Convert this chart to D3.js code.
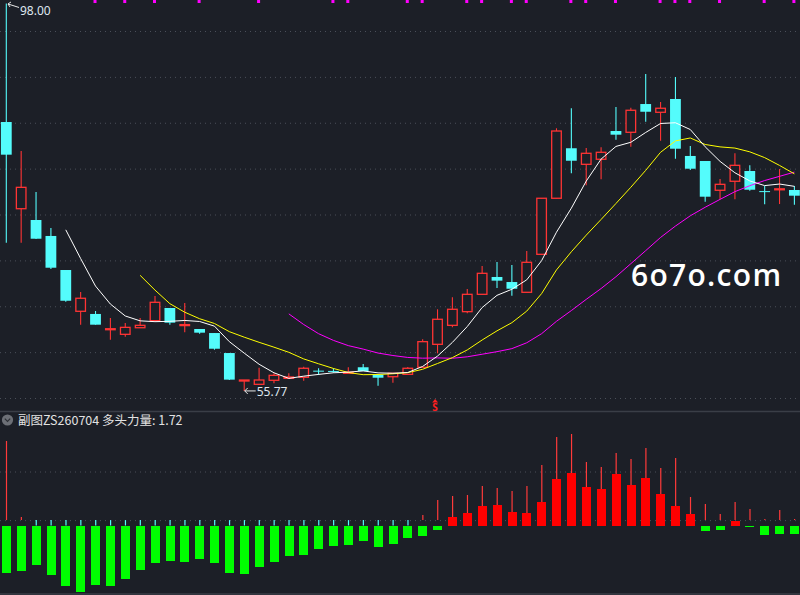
<!DOCTYPE html>
<html>
<head>
<meta charset="utf-8">
<script src="https://cdn.jsdelivr.net/npm/d3@7"></script>
<style>
  html, body { margin: 0; padding: 0; background: #1c1f27; }
  svg { display: block; }
</style>
</head>
<body>
<svg id="chart" width="800" height="595"></svg>
<script>
// daily candles
const opens  = [85.08, 75.63, 74.40, 72.66, 68.95, 64.45, 64.16, 62.45, 61.94, 62.66,
                63.43, 64.81, 62.90, 62.52, 62.08, 59.90, 56.85, 56.49, 56.93, 57.14,
                57.26, 57.98, 57.95, 57.72, 58.35, 57.54, 57.32, 57.58, 58.35, 60.85,
                62.92, 64.41, 66.30, 68.19, 67.64, 66.52, 70.66, 76.77, 82.22, 80.47,
                81.02, 84.10, 83.96, 87.04, 86.14, 87.59, 81.38, 80.83, 77.64, 78.62,
                79.74, 77.55, 77.70, 77.67]
const highs  = [98.00, 81.92, 77.45, 73.53, 68.95, 66.55, 64.48, 63.72, 63.17, 63.72,
                66.12, 64.81, 65.35, 62.52, 62.08, 59.90, 56.96, 58.30, 57.69, 57.69,
                58.41, 58.24, 58.24, 58.35, 58.70, 57.60, 57.69, 58.38, 61.40, 64.67,
                65.98, 66.88, 69.39, 69.82, 69.50, 71.02, 76.77, 84.40, 86.57, 82.25,
                82.32, 86.72, 86.64, 90.31, 87.26, 89.99, 82.47, 80.83, 78.87, 81.67,
                80.36, 78.11, 79.96, 78.11]
const lows   = [71.93, 71.93, 72.33, 69.06, 65.50, 62.99, 62.99, 61.35, 61.68, 62.66,
                63.43, 62.99, 62.16, 62.01, 60.26, 56.95, 55.77, 56.49, 56.60, 57.14,
                56.88, 57.51, 57.75, 57.70, 57.94, 56.34, 56.67, 57.58, 58.35, 59.87,
                62.70, 64.23, 66.30, 66.99, 66.15, 66.52, 70.66, 76.77, 79.49, 78.18,
                78.84, 83.15, 82.39, 85.11, 83.04, 81.08, 79.85, 76.40, 76.66, 76.66,
                77.60, 76.11, 76.14, 76.07]
const closes = [81.52, 77.96, 72.36, 69.20, 65.60, 65.87, 62.99, 62.55, 62.70, 62.92,
                65.43, 63.21, 63.00, 62.12, 60.37, 57.00, 56.96, 56.96, 57.47, 57.29,
                58.24, 57.90, 57.85, 57.80, 57.94, 57.21, 57.69, 58.24, 61.14, 63.58,
                64.67, 66.30, 68.59, 67.79, 66.91, 69.79, 76.77, 84.10, 80.86, 81.67,
                81.78, 83.70, 86.36, 86.20, 86.58, 82.17, 79.99, 76.94, 78.29, 80.36,
                77.70, 77.45, 77.80, 77.05]

// moving average lines (white, yellow, magenta)
const ma5 = [null, null, null, null,
  73.33, 70.20, 67.20, 65.24, 63.94, 63.41, 63.32, 63.36, 63.45, 63.34,
  62.83, 61.14, 59.89, 58.68, 57.75, 57.14, 57.38, 57.57, 57.75, 57.82,
  57.95, 57.74, 57.70, 57.78, 58.44, 59.57, 61.06, 62.79, 64.86, 66.19,
  66.85, 67.88, 69.97, 73.07, 75.69, 78.64, 81.04, 82.42, 82.87, 83.94,
  84.92, 85.00, 84.26, 82.38, 80.79, 79.55, 78.66, 78.15, 78.32, 78.07]
const ma10 = [null, null, null, null, null, null, null, null, null,
  68.37, 66.76, 65.28, 64.35, 63.64, 63.12, 62.23, 61.63, 61.07, 60.54,
  59.98, 59.26, 58.73, 58.22, 57.78, 57.54, 57.56, 57.64, 57.76, 58.13,
  58.76, 59.40, 60.24, 61.32, 62.32, 63.21, 64.47, 66.38, 68.96, 70.94,
  72.75, 74.46, 76.20, 77.97, 79.81, 81.78, 83.02, 83.34, 82.63, 82.37,
  82.24, 81.83, 81.20, 80.35, 79.43]
const ma20 = [null, null, null, null, null, null, null, null, null, null,
  null, null, null, null, null, null, null, null, null,
  64.17, 63.01, 62.01, 61.28, 60.71, 60.33, 59.90, 59.63, 59.42, 59.34,
  59.37, 59.33, 59.49, 59.77, 60.05, 60.38, 61.02, 62.01, 63.36, 64.53,
  65.75, 66.93, 68.22, 69.64, 71.06, 72.50, 73.74, 74.86, 75.79, 76.65,
  77.49, 78.14, 78.70, 79.16, 79.62]

// sub chart: power bars and thin sticks
const powerBars = [-8.74, -8.37, -7.31, -9.17, -11.2, -12.31, -11.02, -11.2, -9.91, -8.24,
                   -6.94, -6.57, -6.76, -6.2, -6.94, -8.8, -8.98, -7.69, -6.76, -5.65,
                   -5.46, -4.35, -3.8, -3.61, -2.87, -3.98, -3.43, -2.31, -1.94, -0.83,
                   1.57, 2.31, 3.61, 3.8, 2.5, 2.31, 4.35, 8.61, 9.72, 7.22,
                   6.67, 9.54, 7.5, 8.8, 5.83, 3.61, 2.13, -1.02, -0.83, 0.83,
                   -0.28, -1.76, -1.57, -1.57]
const powerSticks = [15.65, 1.57, 0, 0, 0, 0, 0, 0, 0, 0,
                     0, 0, 0, 0, 0, 0, 0, 0, 0, 0,
                     0, 0, 0, 0, 0, 0, 0, 0, 1.94, 4.72,
                     5.46, 5.65, 7.31, 6.94, 6.39, 7.31, 11.2, 16.39, 16.94, 11.76,
                     10.83, 13.43, 12.31, 14.35, 10.65, 12.5, 5.28, 3.98, 2.13, 4.35,
                     3.06, 1.2, 2.87, 1.2]
const stickBase = 1
const subGrid = [1, 10]

const priceTicks = [95, 90, 85, 80, 75, 70, 65, 60, 55]
const topMarks = [6, 8, 10, 13, 17, 22, 23, 27, 28, 31, 32, 34, 35, 38, 39, 41, 44, 45, 46, 48, 51, 53]
const signalIdx = 29
const highLabel = '98.00', lowLabel = '55.77'
const highIdx = 0, lowIdx = 16
const subTitle = '副图ZS260704 多头力量: 1.72'

const W = 800, H = 595
const bg = '#1c1f27'
const red = '#ff3434', cyan = '#54fcfc'

const svg = d3.select('#chart')
svg.append('rect').attr('width', W).attr('height', H).attr('fill', bg)

const x = d3.scaleLinear().domain([0, opens.length - 1]).range([6.3, 794.4])
const y = d3.scaleLinear().domain([55, 95]).range([398, 31])
const ySub = d3.scaleLinear().domain([0, 10]).range([525.5, 471.5])

// grid
const grid = svg.append('g')
  .call(d3.axisRight(y).tickValues(priceTicks).tickSize(W).tickFormat(''))
grid.append('g')
  .call(d3.axisRight(ySub).tickValues(subGrid).tickSize(W).tickFormat(''))
svg.selectAll('.domain').remove()
svg.selectAll('.tick line')
  .attr('stroke', '#4a4f59')
  .attr('stroke-dasharray', '1,4')

// panel separators
svg.append('line').attr('x1', 0).attr('x2', W).attr('y1', 411.5).attr('y2', 411.5)
  .attr('stroke', '#3a3e47').attr('stroke-width', 1.3)
svg.append('line').attr('x1', 0).attr('x2', W).attr('y1', 594).attr('y2', 594)
  .attr('stroke', '#3a3e47').attr('stroke-width', 1.3)

// top markers
svg.append('g').selectAll('rect')
  .data(topMarks)
  .enter().append('rect')
  .attr('x', d => x(d) - 2)
  .attr('y', 0)
  .attr('width', 3)
  .attr('height', 3)
  .attr('fill', '#ff00ff')

// candles
const idx = d3.range(opens.length)
const candles = svg.append('g')
const up = i => closes[i] >= opens[i]

candles.selectAll('line.wick')
  .data(idx)
  .enter().append('line')
  .attr('class', 'wick')
  .attr('x1', i => x(i)).attr('x2', i => x(i))
  .attr('y1', i => y(highs[i]))
  .attr('y2', i => y(lows[i]))
  .attr('stroke', i => up(i) ? red : cyan)
  .attr('stroke-width', 1.1)

candles.selectAll('rect.body')
  .data(idx)
  .enter().append('rect')
  .attr('class', 'body')
  .attr('x', i => up(i) ? x(i) - 4.8 : x(i) - 5.4)
  .attr('width', i => up(i) ? 9.6 : 10.8)
  .attr('y', i => y(Math.max(opens[i], closes[i])))
  .attr('height', i => Math.max(1, Math.abs(y(opens[i]) - y(closes[i]))))
  .attr('fill', i => up(i) ? bg : cyan)
  .attr('stroke', i => up(i) ? red : 'none')
  .attr('stroke-width', 1.3)

// moving averages
const line = d3.line()
  .defined(d => d != null)
  .x((d, i) => x(i))
  .y(d => y(d))
const maLines = [[ma20, '#ff00ff'], [ma10, '#ffff00'], [ma5, '#ffffff']]
maLines.forEach(([data, color]) => {
  svg.append('path')
    .datum(data)
    .attr('d', line)
    .attr('fill', 'none')
    .attr('stroke', color)
    .attr('stroke-width', 1)
})

// high / low labels
const labelFont = '"Noto Sans", "DejaVu Sans", sans-serif'
const hx = x(highIdx) + 0.7, hy = y(highs[highIdx]) + 0.5
svg.append('path')
  .attr('d', `M${hx + 12},${hy + 3.5} L${hx + 1},${hy} M${hx + 1},${hy} L${hx + 4},${hy - 2} M${hx + 1},${hy} L${hx + 3},${hy + 3}`)
  .attr('stroke', '#e8e8e8').attr('fill', 'none').attr('stroke-width', 1)
svg.append('text')
  .attr('x', hx + 13).attr('y', hy + 11)
  .attr('fill', '#dfe6ef').attr('font-size', 12).attr('font-family', labelFont)
  .text(highLabel)

const lx = x(lowIdx) + 0.5, ly = y(lows[lowIdx])
svg.append('path')
  .attr('d', `M${lx},${ly} L${lx + 11},${ly} M${lx},${ly} L${lx + 3},${ly - 3} M${lx},${ly} L${lx + 3},${ly + 3}`)
  .attr('stroke', '#e8e8e8').attr('fill', 'none').attr('stroke-width', 1)
svg.append('text')
  .attr('x', lx + 12).attr('y', ly + 5.5)
  .attr('fill', '#dfe6ef').attr('font-size', 12).attr('font-family', labelFont)
  .text(lowLabel)

// buy signal mark
const sx = x(signalIdx) - 2.4
svg.append('path')
  .attr('d', `M${sx},399 L${sx - 3},402.5 L${sx + 3},402.5 Z`)
  .attr('fill', '#ff2020')
svg.append('text')
  .attr('x', sx).attr('y', 410.5)
  .attr('text-anchor', 'middle')
  .attr('fill', '#ff2020').attr('font-size', 10).attr('font-weight', 'bold')
  .attr('font-family', labelFont)
  .text('S')

// watermark
svg.append('text')
  .attr('x', 631).attr('y', 286)
  .attr('fill', '#ffffff').attr('font-size', 30).attr('font-weight', 600)
  .attr('font-family', '"Open Sans", "DejaVu Sans", sans-serif')
  .attr('textLength', 150)
  .text('6o7o.com')

// sub chart
const sub = svg.append('g')
sub.selectAll('line.stick')
  .data(idx)
  .enter().append('line')
  .attr('class', 'stick')
  .attr('x1', i => x(i) + 0.2).attr('x2', i => x(i) + 0.2)
  .attr('y1', ySub(stickBase))
  .attr('y2', i => ySub(powerSticks[i]))
  .attr('stroke', i => powerSticks[i] > stickBase ? '#ff3a3a' : cyan)
  .attr('stroke-width', 1.2)

sub.selectAll('rect.bar')
  .data(idx)
  .enter().append('rect')
  .attr('class', 'bar')
  .attr('x', i => x(i) - 4.3)
  .attr('width', 9)
  .attr('y', i => ySub(Math.max(0, powerBars[i])))
  .attr('height', i => Math.abs(ySub(powerBars[i]) - ySub(0)))
  .attr('fill', i => powerBars[i] >= 0 ? '#ff0000' : '#00ff00')
  .attr('shape-rendering', 'crispEdges')

// sub chart title
svg.append('circle').attr('cx', 7.5).attr('cy', 420).attr('r', 5.6).attr('fill', '#6c6f76')
svg.append('path').attr('d', 'M4.8,418.6 L7.5,421.3 L10.2,418.6')
  .attr('stroke', '#2b2e35').attr('stroke-width', 1.2).attr('fill', 'none')
svg.append('text')
  .attr('x', 18).attr('y', 424.5)
  .attr('fill', '#e2e2e2').attr('font-size', 12.5)
  .attr('font-family', '"Noto Sans CJK SC", "Noto Sans", sans-serif')
  .text(subTitle)
</script>
</body>
</html>
